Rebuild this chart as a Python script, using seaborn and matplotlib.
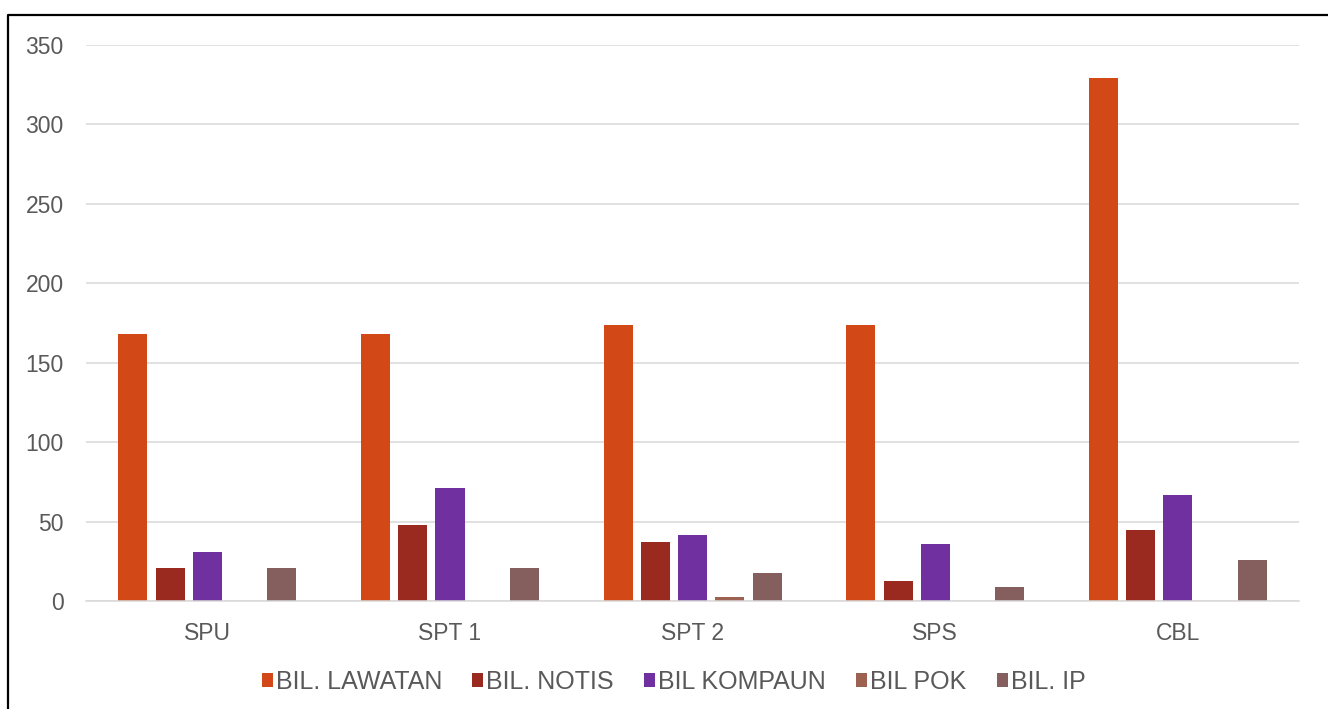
import matplotlib
matplotlib.use("Agg")
import matplotlib.pyplot as plt
import seaborn as sns
import pandas as pd
from matplotlib.patches import Patch
from matplotlib.lines import Line2D

categories = ["SPU", "SPT 1", "SPT 2", "SPS", "CBL"]
series_names = ["BIL. LAWATAN", "BIL. NOTIS", "BIL KOMPAUN", "BIL POK", "BIL. IP"]
bil_lawatan = [168, 168, 174, 174, 329]
bil_notis = [21, 48, 37, 13, 45]
bil_kompaun = [31, 71, 42, 36, 67]
bil_pok = [0, 0, 3, 0, 0]
bil_ip = [21, 21, 18, 9, 26]
colors = ["#D24817", "#9A2A1F", "#7030A0", "#9C6150", "#855E5E"]
yticks = [0, 50, 100, 150, 200, 250, 300, 350]

values = [bil_lawatan, bil_notis, bil_kompaun, bil_pok, bil_ip]
rows = []
for name, vals in zip(series_names, values):
    for cat, v in zip(categories, vals):
        rows.append({"cat": cat, "series": name, "value": v})
df = pd.DataFrame(rows)

sns.set_theme(style="white")
plt.rcParams["font.family"] = ["Liberation Sans", "DejaVu Sans"]

W, H = 1328, 709
fig = plt.figure(figsize=(W / 100, H / 100), dpi=100)
ax = fig.add_axes([86 / W, (H - 601.3) / H, (1299.3 - 86) / W, (601.3 - 45) / H])

sns.barplot(data=df, x="cat", y="value", hue="series", order=categories,
            hue_order=series_names, palette=colors, width=0.767, gap=0.22,
            saturation=1, legend=False, ax=ax, linewidth=0)

ax.set_ylim(0, 350)
ax.set_xlim(-0.5, len(categories) - 0.5)
ax.set_yticks(yticks)
ax.set_yticklabels([str(t) for t in yticks])
ax.set_xlabel("")
ax.set_ylabel("")
ax.yaxis.grid(True, color="#D9D9D9", linewidth=1.1)
ax.set_axisbelow(True)
for s in ["top", "right", "left"]:
    ax.spines[s].set_visible(False)
ax.spines["bottom"].set_color("#D9D9D9")
ax.spines["bottom"].set_linewidth(1.1)
ax.tick_params(axis="y", length=0, pad=16, labelsize=16.5, labelcolor="#595959")
ax.tick_params(axis="x", length=0, pad=15, labelsize=16.5, labelcolor="#595959")

handles = [Patch(facecolor=c, edgecolor="none") for c in colors]
fig.legend(handles, series_names, loc="center", bbox_to_anchor=(673.5 / W, 1 - 682 / H),
           ncol=5, frameon=False, fontsize=18, labelcolor="#595959",
           handlelength=0.45, handleheight=0.45, handletextpad=0.12, columnspacing=1.2)

# outer frame (left and top)
fig.add_artist(Line2D([7.5 / W, 7.5 / W, 1.0], [0, 1 - 14.5 / H, 1 - 14.5 / H],
                      transform=fig.transFigure, color="black", linewidth=1.6))

fig.savefig("out.png", dpi=100)
